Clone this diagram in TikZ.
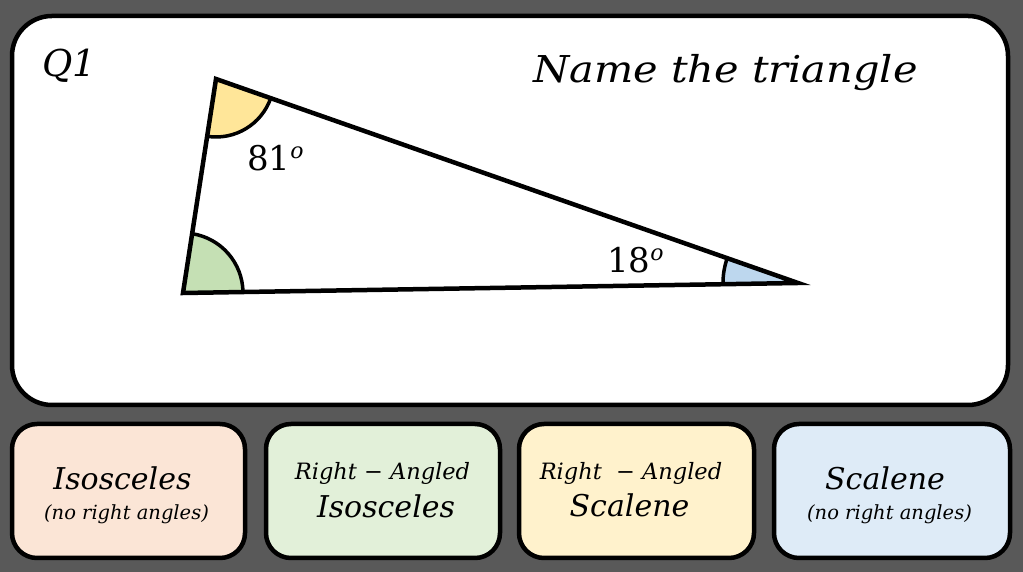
\documentclass[tikz,border=0pt]{standalone}
\usepackage{fontspec}
\setmainfont{DejaVu Serif}
\usetikzlibrary{angles}
\definecolor{bg}{HTML}{595959}
\definecolor{boxA}{HTML}{FBE5D6}
\definecolor{boxB}{HTML}{E2F0D9}
\definecolor{boxC}{HTML}{FFF2CC}
\definecolor{boxD}{HTML}{DEEBF7}
\definecolor{angY}{HTML}{FFE699}
\definecolor{angG}{HTML}{C5E0B4}
\definecolor{angB}{HTML}{BDD7EE}
\tikzset{
  card/.style={draw=black, line width=4.5pt, rounded corners=25pt},
  txt/.style={inner sep=0pt, anchor=base, font=\itshape},
  huge/.style={txt, font=\fontsize{37}{44}\selectfont\itshape},
  big/.style={txt, font=\fontsize{34}{40}\selectfont\itshape},
  mid/.style={txt, font=\fontsize{30}{36}\selectfont\itshape},
  sml/.style={txt, font=\fontsize{22.5}{28}\selectfont\itshape},
  tiny/.style={txt, font=\fontsize{19.5}{23}\selectfont\itshape},
  sector/.style={draw=black, line width=3.5pt}
}
\begin{document}
\begin{tikzpicture}[x=1pt,y=1pt]
\useasboundingbox (0,0) rectangle (1023,572);
\fill[bg] (0,0) rectangle (1023,572);
% main card
\draw[fill=white, line width=4.5pt, rounded corners=40pt] (12,167) rectangle (1008,556);
\node[huge, anchor=base west] (q) at (42,495) {Q1};
\node[huge, anchor=base west] (title) at (533,489) {\scalebox{1.12}[1]{Name the triangle}};
% triangle
\coordinate (A) at (216,493);
\coordinate (B) at (183,279);
\coordinate (C) at (798,289);
\pic[sector, fill=angY, angle radius=58pt] {angle = B--A--C};
\pic[sector, fill=angG, angle radius=60pt] {angle = C--B--A};
\pic[sector, fill=angB, angle radius=75pt] {angle = A--C--B};
\draw[line width=4.5pt, line join=miter] (A) -- (B) -- (C) -- cycle;
\node[big, anchor=base west] (l81) at (247,401) {\upshape 81\raisebox{12pt}{\fontsize{22}{26}\selectfont\itshape o}};
\node[big, anchor=base west] (l18) at (607,299) {\upshape 18\raisebox{12pt}{\fontsize{22}{26}\selectfont\itshape o}};
% answer cards
\draw[card, fill=boxA] (12,14) rectangle (245,148);
\draw[card, fill=boxB] (266,14) rectangle (500,148);
\draw[card, fill=boxC] (519,14) rectangle (754,148);
\draw[card, fill=boxD] (774,14) rectangle (1010,148);
\node[mid] (a1) at (122.5,82) {Isosceles};
\node[tiny] (a2) at (126.5,52) {(no right angles)};
\node[sml] (b1) at (382.5,92) {Right − Angled};
\node[mid] (b2) at (386,54) {Isosceles};
\node[sml] (c1) at (631,92) {Right \ − Angled};
\node[mid] (c2) at (629.5,55) {Scalene};
\node[mid] (d1) at (885,82) {Scalene};
\node[tiny] (d2) at (889.5,52) {(no right angles)};
\end{tikzpicture}
\end{document}
